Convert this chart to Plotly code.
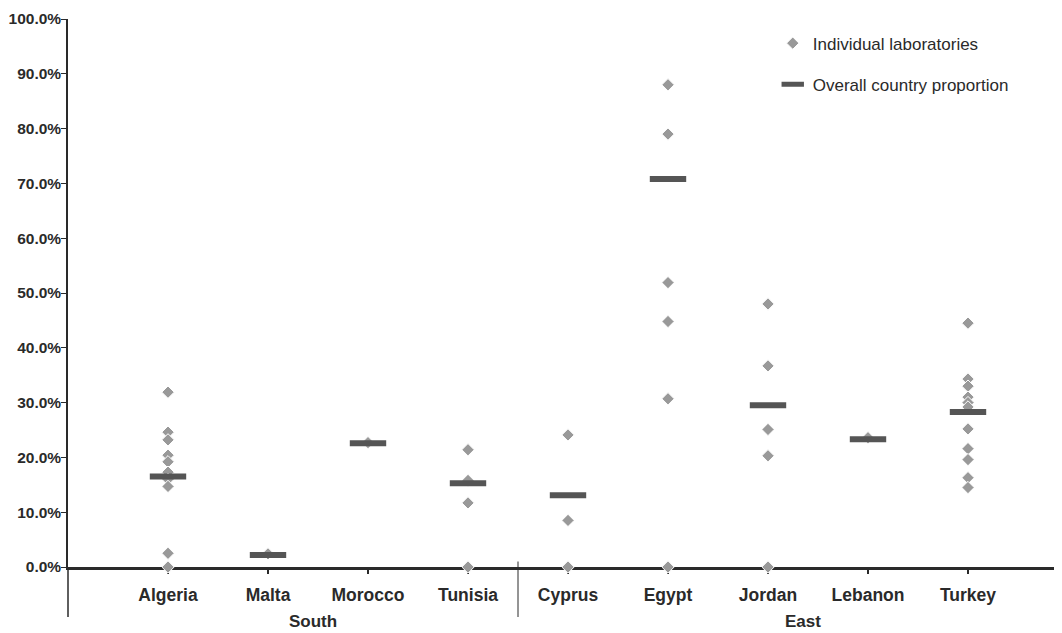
import plotly.graph_objects as go

countries = ["Algeria", "Malta", "Morocco", "Tunisia", "Cyprus", "Egypt", "Jordan", "Lebanon", "Turkey"]
regions = ["South", "South", "South", "South", "East", "East", "East", "East", "East"]

lab_values = {
    "Algeria": [31.9, 24.6, 23.2, 20.4, 19.2, 17.3, 16.0, 14.7, 2.5, 0.0],
    "Malta": [2.4],
    "Morocco": [22.7],
    "Tunisia": [21.4, 15.8, 11.7, 0.0],
    "Cyprus": [24.1, 8.5, 0.0],
    "Egypt": [88.0, 79.0, 51.9, 44.8, 30.7, 0.0],
    "Jordan": [48.0, 36.7, 25.1, 20.3, 0.0],
    "Lebanon": [23.6],
    "Turkey": [44.5, 34.3, 33.0, 31.0, 30.0, 29.2, 25.2, 21.6, 19.6, 16.3, 14.5],
}
overall = [16.5, 2.2, 22.6, 15.3, 13.1, 70.8, 29.5, 23.3, 28.3]

y_ticks = [0, 10, 20, 30, 40, 50, 60, 70, 80, 90, 100]

FONT = "Liberation Sans, Arial, Helvetica, sans-serif"
DARK = "#2a2a2a"

lab_x, lab_y = [], []
for i, c in enumerate(countries):
    for v in lab_values[c]:
        lab_x.append(i)
        lab_y.append(v)

fig = go.Figure()
fig.add_trace(go.Scatter(
    x=lab_x, y=lab_y, mode="markers", name="Individual laboratories",
    marker=dict(symbol="diamond", size=9.5, color="#999999",
                line=dict(color="white", width=1)),
    cliponaxis=False, legendgroup="a",
))
fig.add_trace(go.Scatter(
    x=list(range(len(countries))), y=overall, mode="markers",
    name="Overall country proportion",
    marker=dict(symbol="line-ew", size=26, color="#555555",
                line=dict(color="#555555", width=6)),
    cliponaxis=False, legendgroup="b",
))

# group separators and axis extensions below the category axis
ext = 50 / 548
shapes = [
    dict(type="line", xref="x", yref="paper", x0=3.5, x1=3.5, y0=0.01, y1=-ext,
         line=dict(color=DARK, width=1)),
    dict(type="line", xref="paper", yref="paper", x0=0, x1=0, y0=0, y1=-ext,
         line=dict(color=DARK, width=1.5)),
]

group_pos = {"South": 1.45, "East": 6.35}
annotations = [
    dict(x=pos, y=-0.1, xref="x", yref="paper", text="<b>%s</b>" % g,
         showarrow=False, font=dict(family=FONT, size=17, color=DARK),
         yanchor="middle")
    for g, pos in group_pos.items()
]

fig.update_layout(
    width=1054, height=625,
    margin=dict(l=60, r=0, t=11, b=66),
    paper_bgcolor="white", plot_bgcolor="white",
    font=dict(family=FONT, color=DARK),
    showlegend=True,
    legend=dict(x=0.709, y=0.988, xanchor="left", yanchor="top",
                font=dict(family=FONT, size=17, color=DARK),
                tracegroupgap=16, bgcolor="rgba(0,0,0,0)"),
    xaxis=dict(
        range=[-1, 8.94], tickmode="array",
        tickvals=list(range(len(countries))),
        ticktext=["<b>%s</b>" % c for c in countries],
        tickfont=dict(family=FONT, size=17.5, color=DARK),
        showgrid=False, zeroline=False,
        showline=True, linecolor=DARK, linewidth=3,
        ticks="outside", ticklen=4, tickwidth=2, tickcolor=DARK,
        ticklabelstandoff=6, layer="below traces",
    ),
    yaxis=dict(
        range=[0, 100], tickmode="array", tickvals=y_ticks,
        ticktext=["<b>%.1f%%</b>" % v for v in y_ticks],
        tickfont=dict(family=FONT, size=15.5, color=DARK),
        showgrid=False, zeroline=False,
        showline=True, linecolor=DARK, linewidth=1.5,
        ticks="outside", ticklen=5, tickwidth=1, tickcolor=DARK,
        ticklabelstandoff=-3, layer="below traces",
    ),
    shapes=shapes,
    annotations=annotations,
)

fig.write_html("out.html")
